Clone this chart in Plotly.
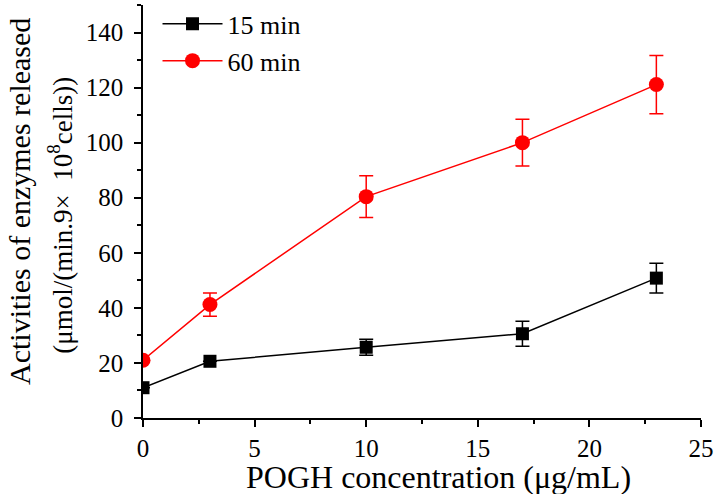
import plotly.graph_objects as go

# dados
conc = [0, 3, 10, 17, 23]
act_15 = [11.0, 20.6, 25.7, 30.6, 50.8]
err_15 = [0, 0, 2.9, 4.5, 5.4]
act_60 = [21.0, 41.2, 80.4, 100.0, 121.1]
err_60 = [0, 4.2, 7.6, 8.5, 10.6]

fonte = 'Liberation Serif, Times New Roman, serif'

fig = go.Figure()
fig.add_trace(go.Scatter(
    x=conc, y=act_15, name='15 min', mode='lines+markers',
    line=dict(color='black', width=1.5),
    marker=dict(symbol='square', size=13, color='black'),
    error_y=dict(type='data', array=err_15, color='black', thickness=1.5, width=7)))
fig.add_trace(go.Scatter(
    x=conc, y=act_60, name='60 min', mode='lines+markers',
    line=dict(color='red', width=1.5),
    marker=dict(symbol='circle', size=15, color='red'),
    error_y=dict(type='data', array=err_60, color='red', thickness=1.5, width=7)))

eixo = dict(showline=True, linecolor='black', linewidth=1.5, ticks='outside',
            ticklen=7, tickwidth=1.5, tickcolor='black', showgrid=False,
            zeroline=False, tickfont=dict(family=fonte, size=25, color='black'))

# títulos dos eixos como anotações (posição mais fiel ao original)
titulos = [
    dict(text='POGH concentration (μg/mL)', x=0.529, y=0, xanchor='center', yanchor='middle',
         yshift=-59, font=dict(size=32)),
    dict(text='Activities of enzymes released', x=0, y=0.523, xanchor='center',
         yanchor='middle', xshift=-124, textangle=-90, font=dict(size=30)),
    dict(text='(μmol/(min.9×\u00a0\u00a010<sup>8</sup>cells))', x=0, y=0.49, xanchor='center',
         yanchor='middle', xshift=-83, textangle=-90, font=dict(size=27)),
]
for t in titulos:
    fig.add_annotation(xref='paper', yref='paper', showarrow=False, **t)

fig.update_layout(
    width=717, height=494,
    margin=dict(l=143, r=16, t=5, b=76, autoexpand=False),
    plot_bgcolor='white', paper_bgcolor='white',
    font=dict(family=fonte, color='black'),
    xaxis=dict(range=[0, 25], dtick=5,
               minor=dict(dtick=2.5, ticks='outside', ticklen=4, tickcolor='black', tickwidth=1.5),
               **eixo),
    yaxis=dict(range=[0, 150], tickvals=[0, 20, 40, 60, 80, 100, 120, 140],
               ticklabelstandoff=6,
               minor=dict(dtick=10, ticks='outside', ticklen=4, tickcolor='black', tickwidth=1.5),
               **eixo),
    legend=dict(x=0.026, y=1.011, xanchor='left', yanchor='top',
                font=dict(family=fonte, size=26), bgcolor='rgba(0,0,0,0)',
                tracegroupgap=0, itemwidth=60),
)

# tira a margem padrão do body da página
fig.write_html("out.html", config={'displayModeBar': False},
               post_script="document.body.style.margin='0';")
